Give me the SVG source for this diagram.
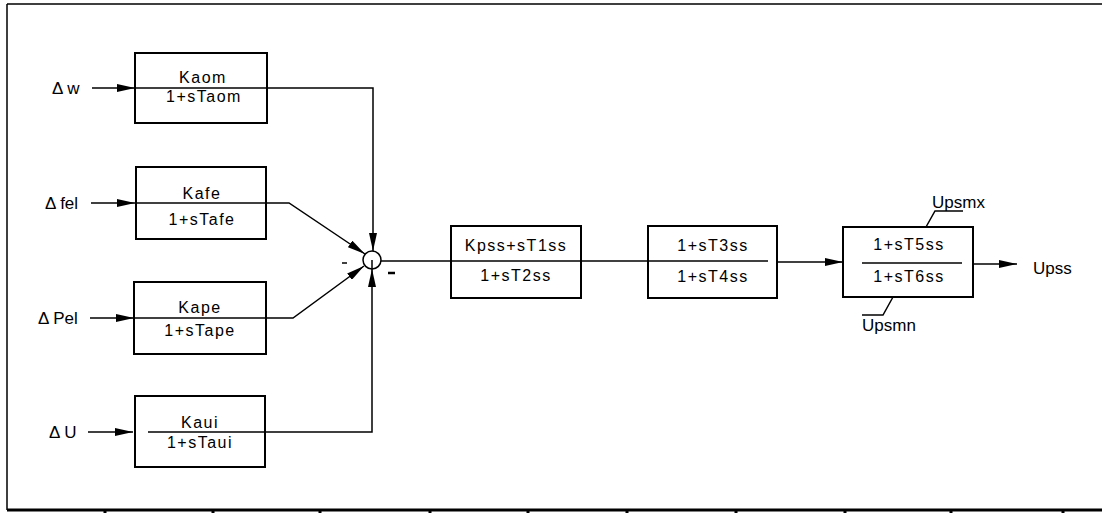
<svg xmlns="http://www.w3.org/2000/svg" width="1102" height="513" viewBox="0 0 1102 513">
<style>
.box{fill:none;stroke:#000;stroke-width:2}
.ln{fill:none;stroke:#000;stroke-width:1.5}
.tx{font-family:"Liberation Sans",Arial,sans-serif;font-size:16px;fill:#000;letter-spacing:1.5px}
.lb{font-family:"Liberation Sans",Arial,sans-serif;font-size:17px;fill:#000}
</style>
<defs>
<marker id="ah" markerWidth="18" markerHeight="8" refX="18" refY="4" orient="auto" markerUnits="userSpaceOnUse">
<path d="M0,0 L18,4 L0,8 Z" fill="#000"/>
</marker>
</defs>
<rect width="1102" height="513" fill="#fff"/>
<g id="frame">
<path d="M7,4 H1102 M7,4 V510" class="ln"/>
<path d="M7,510 H1102" stroke="#000" stroke-width="3"/>
<path d="M105,510 v3 M213,510 v3 M320,510 v3 M430,510 v3 M528,510 v3 M627,510 v3 M736,510 v3 M845,510 v3 M951,510 v3 M1063,510 v3" stroke="#000" stroke-width="3"/>
</g>
<g id="inputs">
<text class="lb" x="52" y="94">Δ w</text>
<text class="lb" x="45" y="209">Δ fel</text>
<text class="lb" x="38" y="324">Δ Pel</text>
<text class="lb" x="49" y="438">Δ U</text>
</g>
<g id="connectors">
<path d="M92,88 H135" class="ln" marker-end="url(#ah)"/>
<path d="M91,203 H135" class="ln" marker-end="url(#ah)"/>
<path d="M90,318 H134" class="ln" marker-end="url(#ah)"/>
<path d="M88,432 H133" class="ln" marker-end="url(#ah)"/>
<path d="M267,88 H373 V251" class="ln" marker-end="url(#ah)"/>
<path d="M266,203 H289 L365,254" class="ln" marker-end="url(#ah)"/>
<path d="M266,318 H293 L364,266" class="ln" marker-end="url(#ah)"/>
<path d="M265,432 H372 V269" class="ln" stroke-width="2" marker-end="url(#ah)"/>
<path d="M381,261 H451" class="ln" stroke-width="2"/>
<path d="M581,261 H648" class="ln" stroke-width="2"/>
<path d="M778,262 H843" class="ln" marker-end="url(#ah)"/>
<path d="M973,264 H1017" class="ln" marker-end="url(#ah)"/>
</g>
<g id="sum">
<circle cx="372" cy="260" r="9" class="ln"/>
<path d="M372,260 V269" class="ln"/>
<path d="M342,263 H347" class="ln"/>
<path d="M388,273 H395" stroke="#000" stroke-width="2.5"/>
</g>
<g id="kaom">
<rect x="135" y="53" width="132" height="70" class="box"/>
<path d="M135,88 H267" class="ln"/>
<text class="tx" x="203" y="83" text-anchor="middle">Kaom</text>
<text class="tx" x="204" y="102" text-anchor="middle">1+sTaom</text>
</g>
<g id="kafe">
<rect x="136" y="167" width="130" height="72" class="box"/>
<path d="M136,203 H266" class="ln" stroke-width="2"/>
<text class="tx" x="202" y="199" text-anchor="middle">Kafe</text>
<text class="tx" x="202" y="225" text-anchor="middle">1+sTafe</text>
</g>
<g id="kape">
<rect x="134" y="282" width="132" height="72" class="box"/>
<path d="M134,318 H266" class="ln" stroke-width="2"/>
<text class="tx" x="200" y="313" text-anchor="middle">Kape</text>
<text class="tx" x="200" y="336" text-anchor="middle">1+sTape</text>
</g>
<g id="kaui">
<rect x="135" y="396" width="130" height="71" class="box"/>
<path d="M148,432 H265" class="ln" stroke-width="2"/>
<text class="tx" x="200" y="428" text-anchor="middle">Kaui</text>
<text class="tx" x="200" y="448" text-anchor="middle">1+sTaui</text>
</g>
<g id="kpss">
<rect x="451" y="226" width="130" height="72" class="box"/>
<path d="M451,261 H581" class="ln" stroke-width="2"/>
<text class="tx" x="516" y="251" text-anchor="middle">Kpss+sT1ss</text>
<text class="tx" x="516" y="281" text-anchor="middle">1+sT2ss</text>
</g>
<g id="lead1">
<rect x="648" y="226" width="129" height="72" class="box"/>
<path d="M648,261 H768" class="ln" stroke-width="2"/>
<text class="tx" x="713" y="251" text-anchor="middle">1+sT3ss</text>
<text class="tx" x="713" y="282" text-anchor="middle">1+sT4ss</text>
</g>
<g id="lead2">
<rect x="843" y="227" width="130" height="70" class="box" stroke-width="1.5"/>
<path d="M862,263 H962" class="ln"/>
<text class="tx" x="909" y="250" text-anchor="middle">1+sT5ss</text>
<text class="tx" x="909" y="282" text-anchor="middle">1+sT6ss</text>
<path d="M926,227 L935,211 H963" class="ln" stroke-width="1"/>
<text class="lb" x="932" y="208">Upsmx</text>
<path d="M893,297 L883,315 H862" class="ln" stroke-width="1"/>
<text class="lb" x="862" y="331">Upsmn</text>
</g>
<g id="out">
<text class="lb" x="1033" y="274">Upss</text>
</g>
</svg>
